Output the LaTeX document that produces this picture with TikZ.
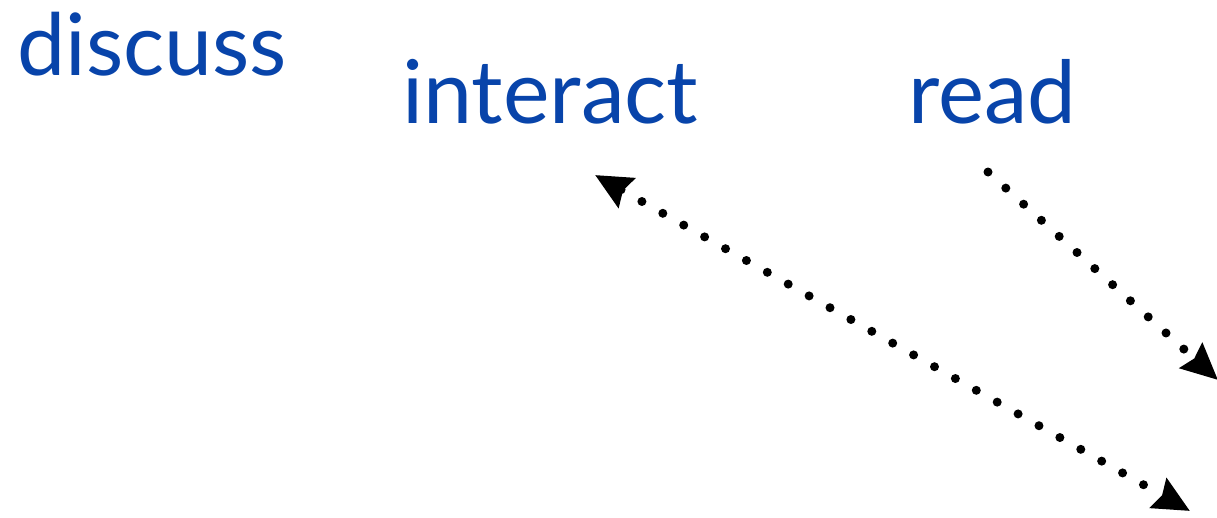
\documentclass[tikz,border=0pt]{standalone}
\usepackage{fontspec}
\setmainfont{Lato}
\usetikzlibrary{arrows.meta}
\definecolor{wordblue}{RGB}{8,68,170}
\tikzset{
  word/.style={anchor=base west,inner sep=0pt,text=wordblue},
  dotline/.style={line width=9pt,line cap=round,dash pattern=on 0pt off 24pt},
  bigtip/.tip={Stealth[length=36pt,width=33pt,inset=4pt]}
}
\begin{document}
\begin{tikzpicture}[x=1pt,y=-1pt]
\useasboundingbox (0,0) rectangle (1217,517);

\node[word,font=\fontsize{86}{90}\selectfont] (discuss) at (17,75) {discuss};
\node[word,font=\fontsize{88}{92}\selectfont] (interact) at (402,123) {interact};
\node[word,font=\fontsize{87}{91}\selectfont] (read) at (908,123) {read};

\coordinate (interactEnd) at (595,175);
\coordinate (lowEnd) at (1190,511);
\coordinate (readStart) at (988,172);
\coordinate (rightEnd) at (1218,380);

\draw[dotline,bigtip-bigtip] (interactEnd)--(lowEnd);
\draw[dotline,-bigtip] (readStart)--(rightEnd);
\end{tikzpicture}
\end{document}
